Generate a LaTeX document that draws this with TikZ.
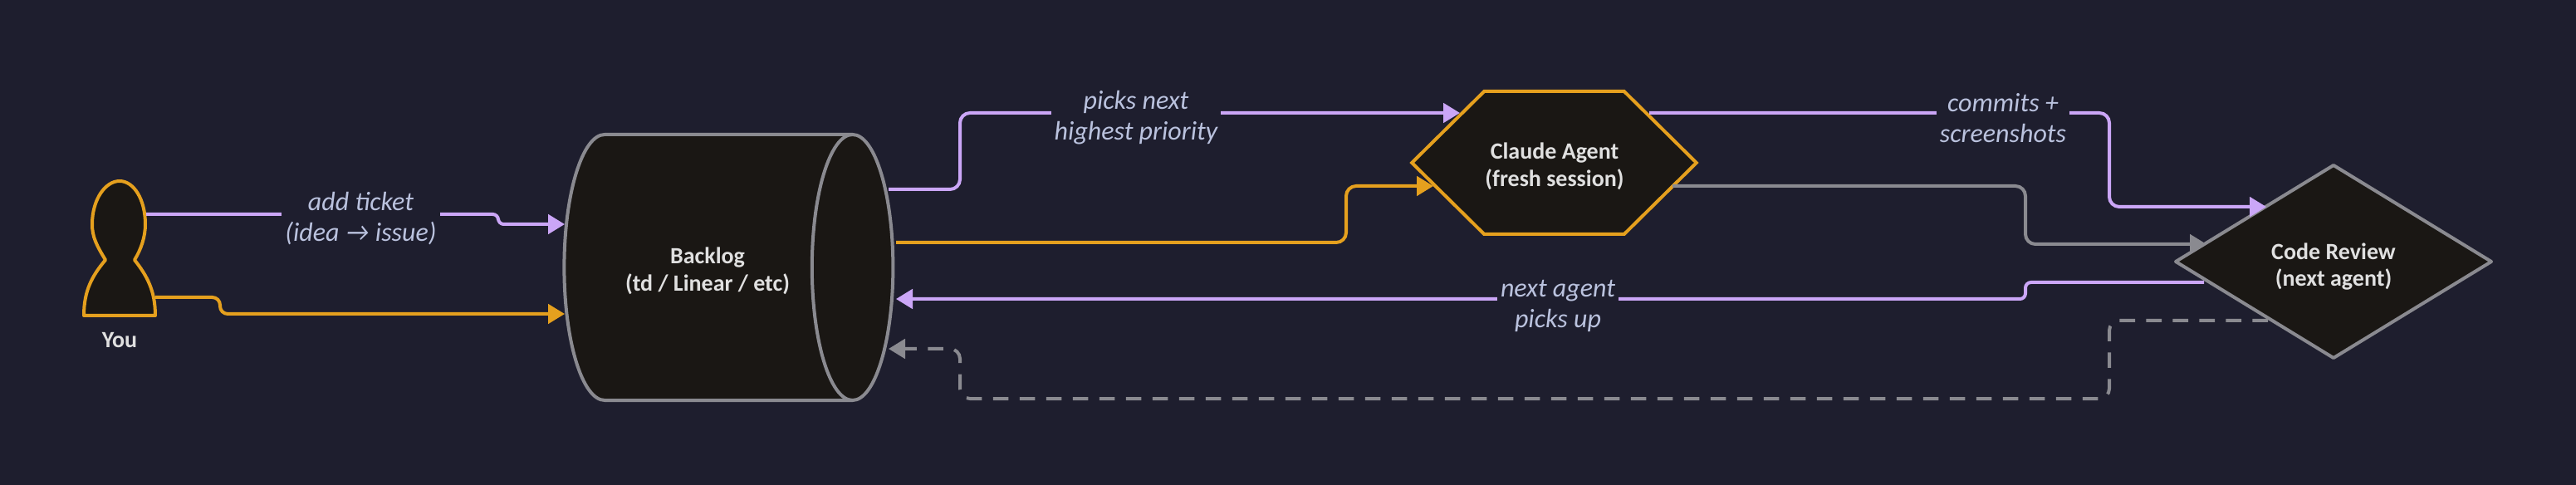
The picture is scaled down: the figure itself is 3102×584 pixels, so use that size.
\documentclass[tikz,border=0pt]{standalone}
\usepackage{fontspec}
\setmainfont{Carlito}
\usetikzlibrary{arrows.meta,shapes.geometric,shapes.symbols}
\definecolor{bgdark}{HTML}{1E1E2E}
\definecolor{nodefill}{HTML}{1A1714}
\definecolor{lilac}{HTML}{CBA6F7}
\definecolor{amber}{HTML}{E5A01E}
\definecolor{slate}{HTML}{8A8A90}
\definecolor{labelblue}{HTML}{BAC2DE}
\definecolor{nodetext}{HTML}{E0E0E0}
\tikzset{every picture/.style={line width=0.75pt}}
\tikzset{
  boxtext/.style={text=nodetext,font=\fontsize{21}{24.5}\selectfont\bfseries,align=center},
  edgetext/.style={text=labelblue,font=\fontsize{24}{27.75}\selectfont\itshape,align=center,fill=bgdark,inner sep=3pt},
  flow/.style={line width=3pt,rounded corners=9pt,-{Triangle[length=15pt,width=17.5pt]}},
}

\begin{document}
\begin{tikzpicture}[x=0.75pt,y=0.75pt,yscale=-1,xscale=1]
\path[use as bounding box,fill=bgdark] (0,0) rectangle (3102,584);

%Shape: Person
\draw [amber,fill=nodefill,line width=3pt,line join=round] (127,313) .. controls (116,295) and (111,285) .. (111,270) .. controls (111,240) and (127,218) .. (144,218) .. controls (161,218) and (175,240) .. (175,270) .. controls (175,285) and (170,300) .. (162,313) .. controls (177,332) and (187,350) .. (187,380) -- (101,380) .. controls (101,350) and (111,332) .. (127,313) -- cycle ;
%Shape: Cylinder
\node (backlog) at (852,322) [cylinder,draw=slate,fill=nodefill,line width=3pt,minimum height=297pt,minimum width=240pt,aspect=3.9,inner sep=0pt,outer sep=0pt,boxtext] {\phantom{(td / Linear / etc)}};
%Shape: Hexagon
\node (agent) at (1871.5,196) [signal,signal to=east and west,signal from=nowhere,signal pointer angle=89.3,draw=amber,fill=nodefill,line width=3pt,minimum width=257pt,minimum height=129pt,inner sep=0pt,outer sep=0pt] {};
%Shape: Diamond
\node (review) at (2810,315) [diamond,draw=slate,fill=nodefill,line width=3pt,line join=round,minimum width=285pt,minimum height=174pt,inner sep=0pt,outer sep=0pt] {};

% Port coordinates
\coordinate (you-a) at (176,258);
\coordinate (you-b) at (187,358);
\coordinate (backlog-a) at (680,270);
\coordinate (backlog-b) at (680,378);
\coordinate (backlog-c) at (1070,228);
\coordinate (backlog-d) at (1079,292);
\coordinate (backlog-e) at (1079,360);
\coordinate (backlog-f) at (1070,420);
\coordinate (agent-a) at (1758,136);
\coordinate (agent-b) at (1726,224);
\coordinate (agent-c) at (1986,136);
\coordinate (agent-d) at (2014,224);
\coordinate (review-a) at (2729,249);
\coordinate (review-b) at (2657,294);
\coordinate (review-c) at (2654,340);
\coordinate (review-d) at (2731,386);

%Straight Lines
\draw [lilac,flow,rounded corners=5pt] (you-a) -- (600,258) -- (600,270) -- (backlog-a);
\draw [amber,flow,rounded corners=7pt] (you-b) -- (265,358) -- (265,378) -- (backlog-b);
\draw [lilac,flow] (backlog-c) -- (1156,228) -- (1156,136) -- (agent-a);
\draw [amber,flow] (backlog-d) -- (1621,292) -- (1621,224) -- (agent-b);
\draw [lilac,flow] (agent-c) -- (2540,136) -- (2540,249) -- (review-a);
\draw [slate,flow] (agent-d) -- (2439,224) -- (2439,294) -- (review-b);
\draw [lilac,flow,rounded corners=5pt] (review-c) -- (2439,340) -- (2439,360) -- (backlog-e);
\draw [slate,flow,dash pattern={on 14pt off 10pt}] (review-d) -- (2540,386) -- (2540,480) -- (1156,480) -- (1156,420) -- (backlog-f);

% Text Node
\node (you) at (144,410) [boxtext] {You};
% Text Node
\node (backlogtext) at (852,326) [boxtext] {Backlog\\(td / Linear / etc)};
% Text Node
\node (agenttext) at (1872,200) [boxtext] {Claude Agent\\(fresh session)};
% Text Node
\node (reviewtext) at (2810,321) [boxtext] {Code Review\\(next agent)};
% Text Node
\node (addticket) at (434.5,263.5) [edgetext] {add ticket\\(idea → issue)};
% Text Node
\node (picksnext) at (1368,142) [edgetext] {picks next\\highest priority};
% Text Node
\node (commits) at (2412,142) [edgetext] {commits +\\screenshots};
% Text Node
\node (nextagent) at (1876,368) [edgetext] {next agent\\picks up};
\end{tikzpicture}
\end{document}
